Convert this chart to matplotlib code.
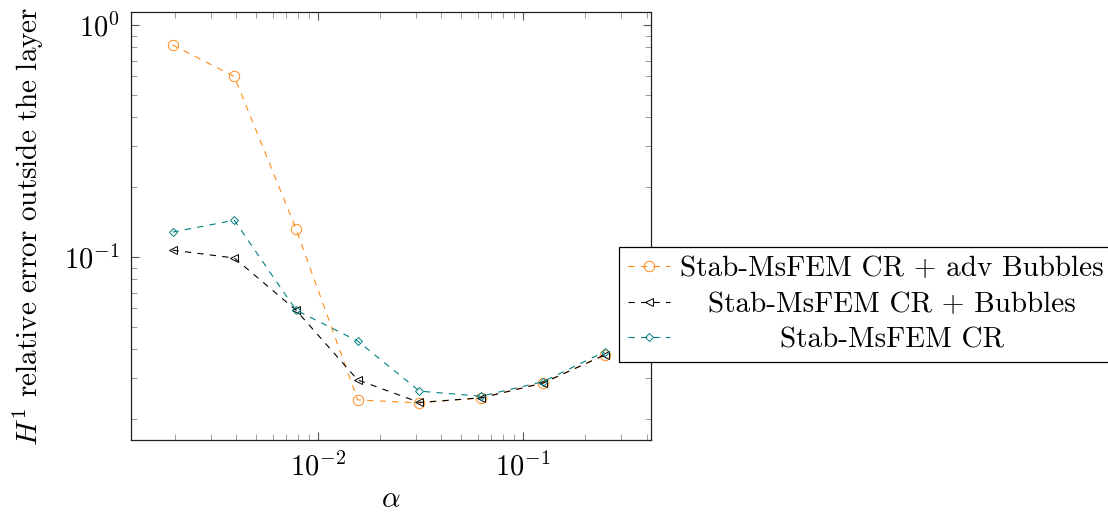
import matplotlib
matplotlib.use("Agg")
import matplotlib.pyplot as plt
from matplotlib.ticker import LogLocator, NullFormatter

plt.rcParams['font.family'] = 'cmr10'
plt.rcParams['mathtext.fontset'] = 'cm'
plt.rcParams['axes.formatter.use_mathtext'] = True
plt.rcParams['axes.unicode_minus'] = True
plt.rcParams['lines.scale_dashes'] = False

# data
alpha = [1/512, 1/256, 1/128, 1/64, 1/32, 1/16, 1/8, 1/4]
err_adv_bubbles = [0.82, 0.60, 0.132, 0.0242, 0.0235, 0.0247, 0.0286, 0.0378]
err_bubbles = [0.107, 0.099, 0.059, 0.0295, 0.0236, 0.0247, 0.0286, 0.0378]
err_cr = [0.128, 0.144, 0.059, 0.0434, 0.0264, 0.0251, 0.029, 0.039]
labels = ["Stab-MsFEM CR + adv Bubbles", "Stab-MsFEM CR + Bubbles", "Stab-MsFEM CR"]
colors = ["#ff8c1a", "black", "#008080"]
markers = ["o", "<", "D"]
msizes = [7.5, 5.5, 4.5]

W, H = 1108, 516
fig = plt.figure(figsize=(W/100, H/100), dpi=100)
ax = fig.add_axes([131/W, 1-440/H, (651-131)/W, (440-12)/H])

for ys, c, m, ms, lab in zip([err_adv_bubbles, err_bubbles, err_cr], colors, markers, msizes, labels):
    ax.plot(alpha, ys, color=c, lw=0.8, dashes=(4.5, 4.5), marker=m, ms=ms,
            mfc='none', mec=c, mew=0.7, label=lab)

ax.set_xscale('log')
ax.set_yscale('log')
ax.set_xlim(10**-2.912, 10**-0.376)
ax.set_ylim(10**-1.789, 10**0.056)

for a in (ax.xaxis, ax.yaxis):
    a.set_major_locator(LogLocator(base=10, numticks=10))
    a.set_minor_locator(LogLocator(base=10, subs=range(2, 10), numticks=20))
    a.set_minor_formatter(NullFormatter())

ax.tick_params(which='both', direction='in', top=True, right=True, labelsize=20.5)
ax.tick_params(axis='x', pad=9)
ax.tick_params(axis='y', pad=8)
ax.tick_params(which='major', length=6, width=0.8, color='#555555')
ax.tick_params(which='minor', length=4, width=0.6, color='#888888')
for s in ax.spines.values():
    s.set_linewidth(0.9)
    s.set_color('#222222')

ax.set_xlabel(r'$\alpha$', fontsize=21, labelpad=4)
ax.set_ylabel(r'$H^1$ relative error outside the layer', fontsize=21, labelpad=13)

leg = fig.legend(loc='upper left', bbox_to_anchor=(619/W, 1-247/H), borderaxespad=0,
                 fontsize=21, frameon=True, fancybox=False, edgecolor='black',
                 framealpha=1, handlelength=1.45, handletextpad=0.35, labelspacing=0.32,
                 borderpad=0.3)
leg.get_frame().set_linewidth(0.9)

# center legend texts within their column
fig.canvas.draw()
r = fig.canvas.get_renderer()
texts = leg.get_texts()
ws = [t.get_window_extent(r).width for t in texts]
mw = max(ws)
for t, w in zip(texts, ws):
    t.set_x((mw - w) / 2)

fig.savefig('out.png', dpi=100)
